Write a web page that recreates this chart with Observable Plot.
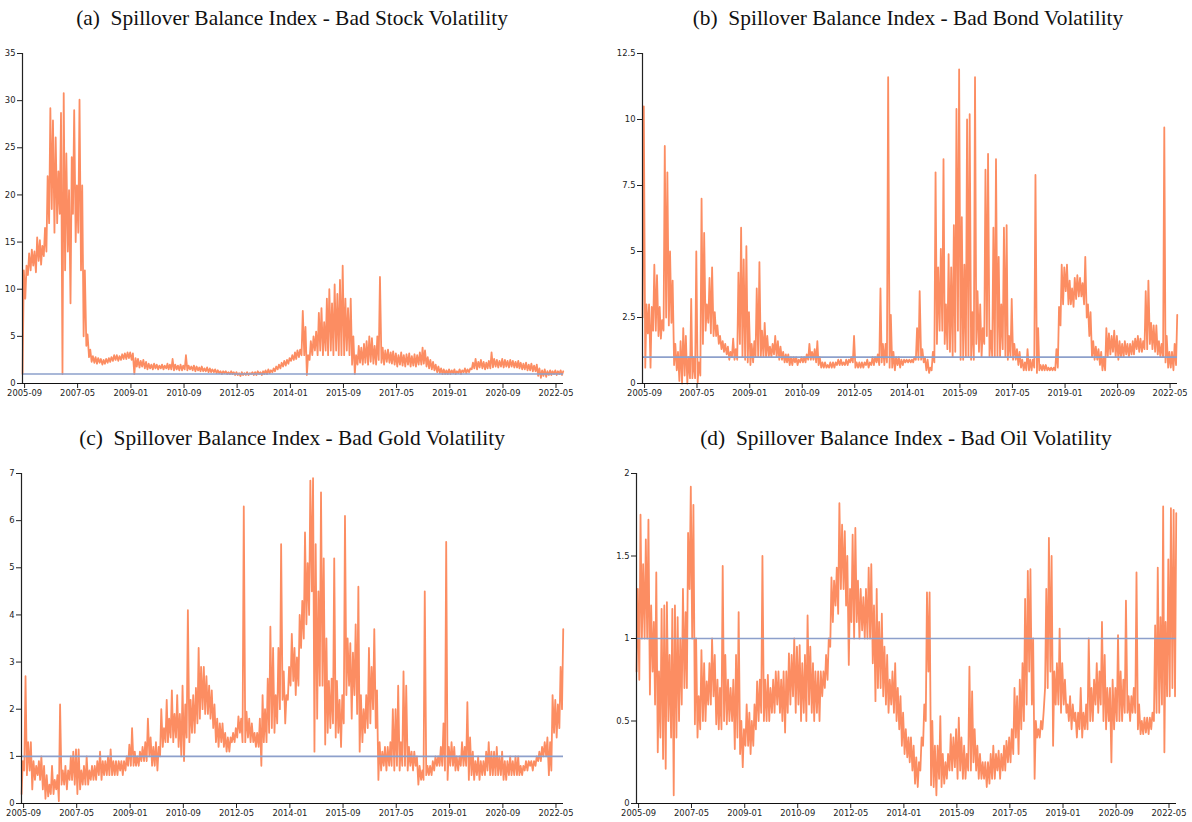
<!DOCTYPE html>
<html>
<head>
<meta charset="utf-8">
<script src="https://cdn.jsdelivr.net/npm/d3@7"></script>
<script src="https://cdn.jsdelivr.net/npm/@observablehq/plot@0.6"></script>
<style>
  html, body { margin: 0; padding: 0; background: #fff; }
  body { width: 1192px; height: 822px; position: relative; overflow: hidden; }
  .panel { position: absolute; }
  .title { position: absolute; font-family: "Liberation Serif", "Times New Roman", serif; font-size: 21.4px; color: #111; white-space: pre; transform: translateX(-50%); line-height: 24px; }
</style>
</head>
<body>
<script>
// Monthly readings (low / high within each month), first month 2005-08
const firstMonth = "2005-08";
const xTickLabels = ["2005-09","2007-05","2009-01","2010-09","2012-05","2014-01","2015-09","2017-05","2019-01","2020-09","2022-05"];
const titles = [
  "(a)  Spillover Balance Index - Bad Stock Volatility",
  "(b)  Spillover Balance Index - Bad Bond Volatility",
  "(c)  Spillover Balance Index - Bad Gold Volatility",
  "(d)  Spillover Balance Index - Bad Oil Volatility"
];
const stockTicks = [0,5,10,15,20,25,30,35];
const bondTicks = [0,2.5,5,7.5,10,12.5];
const goldTicks = [0,1,2,3,4,5,6,7];
const oilTicks = [0,0.5,1,1.5,2];
const balanceLine = [1];

const stockLow = [1.0,9.0,11.5,12.0,12.5,11.8,13.0,12.6,13.5,14.0,17.0,18.5,16.0,17.0,18.0,1.0,12.0,14.0,8.5,18.0,15.0,16.0,12.0,5.0,4.0,2.8,2.3,2.2,2.1,2.2,
2.0,2.1,2.2,2.3,2.4,2.5,2.4,2.5,2.6,2.6,2.7,2.5,1.0,1.8,1.7,1.8,1.6,1.5,1.6,1.5,1.6,1.5,1.6,1.5,1.6,1.5,1.5,1.4,1.5,1.4,
1.4,1.5,1.4,1.5,1.4,1.3,1.4,1.3,1.3,1.3,1.2,1.2,1.2,1.1,1.1,1.0,1.1,1.0,1.0,1.0,0.9,0.9,0.8,0.9,0.9,0.9,1.0,0.9,0.9,1.0,
0.9,1.0,1.0,1.1,1.2,1.3,1.5,1.6,1.8,1.9,2.1,2.4,2.5,2.6,2.8,3.0,3.0,0.9,2.5,3.0,3.5,3.0,3.5,3.0,3.5,3.0,3.5,3.0,3.5,3.0,
3.0,3.0,3.5,3.0,2.0,1.0,2.0,2.2,2.0,2.2,2.0,2.3,2.1,2.0,2.5,2.2,2.0,2.3,2.2,2.1,2.0,1.8,2.0,1.9,1.8,2.0,1.8,1.9,1.8,2.0,
2.0,2.1,1.8,1.6,1.5,1.4,1.2,1.1,1.0,1.0,1.0,1.0,1.1,1.0,1.1,1.0,1.2,1.1,1.2,1.5,1.6,1.5,1.7,1.6,1.5,1.6,1.6,1.7,1.8,1.7,
1.8,1.7,1.8,1.7,1.8,1.7,1.7,1.6,1.5,1.5,1.4,1.4,1.3,1.3,0.8,0.6,0.8,0.7,0.9,0.9,1.0,0.9,1.0,0.9];
const stockHigh = [12.0,12.5,13.8,14.2,14.0,15.5,15.2,14.6,16.5,22.0,29.2,27.9,26.1,22.5,28.7,30.8,24.4,20.5,24.0,29.0,21.0,30.1,21.0,12.0,5.2,3.6,2.9,2.8,2.7,2.6,
2.5,2.6,2.7,2.8,3.0,3.0,2.9,3.1,3.2,3.3,3.3,3.2,2.7,2.6,2.4,2.5,2.3,2.1,2.0,2.1,2.0,1.9,2.0,1.9,2.1,2.0,2.6,2.0,1.9,2.0,
1.9,3.0,1.9,1.8,1.9,1.8,1.7,1.8,1.6,1.7,1.6,1.5,1.5,1.4,1.3,1.3,1.3,1.2,1.3,1.2,1.2,1.1,1.2,1.1,1.2,1.1,1.2,1.2,1.3,1.2,
1.3,1.4,1.5,1.4,1.6,1.8,2.0,2.2,2.4,2.5,2.7,3.0,3.3,3.5,3.6,7.7,6.0,3.0,4.5,5.0,5.5,7.5,8.0,6.5,9.0,10.0,8.5,10.5,9.5,11.0,
12.5,9.0,8.0,9.0,5.0,3.0,4.0,3.8,4.2,4.5,5.0,4.8,4.0,5.0,11.3,3.8,3.5,3.6,3.3,3.4,3.2,3.0,3.3,3.0,3.1,3.2,2.9,3.1,3.0,3.3,
3.8,3.5,2.8,2.5,2.3,2.0,1.8,1.6,1.5,1.4,1.5,1.4,1.5,1.3,1.5,1.4,1.6,1.5,1.6,2.2,2.6,2.3,2.5,2.3,2.2,2.4,3.3,2.6,2.5,2.4,
2.6,2.5,2.4,2.5,2.4,2.3,2.4,2.2,2.1,2.2,2.0,2.1,1.9,2.0,1.6,1.4,1.5,1.3,1.4,1.3,1.4,1.3,1.4,1.3];

const bondLow = [2.5,0.6,1.9,0.6,2.0,2.0,1.8,1.7,2.0,2.5,2.2,2.3,0.7,0.5,0.1,0.0,0.3,0.0,0.2,0.2,0.2,0.05,0.3,1.5,2.0,2.3,1.9,1.8,1.8,1.5,
1.3,1.2,1.1,0.9,1.0,0.9,0.9,1.5,1.0,0.9,0.8,0.7,0.8,1.0,1.0,1.0,1.0,1.0,1.0,1.0,1.1,1.0,0.9,0.9,0.8,0.8,0.7,0.7,0.8,0.7,
0.8,0.8,0.8,0.9,0.9,0.9,0.8,0.7,0.6,0.6,0.6,0.6,0.6,0.6,0.7,0.7,0.7,0.7,0.7,0.8,0.8,0.6,0.6,0.6,0.6,0.7,0.6,0.7,0.7,0.8,
0.7,0.8,0.7,0.8,0.6,0.6,0.5,0.7,0.6,0.7,0.8,0.8,0.8,0.8,0.9,0.9,0.9,0.8,0.5,0.4,0.5,0.8,1.5,2.0,2.0,1.5,1.3,1.2,1.0,1.2,
2.0,0.9,0.9,1.0,1.0,0.9,0.9,1.5,1.2,1.0,1.5,1.8,1.0,1.0,1.0,1.0,1.0,1.3,1.0,0.9,1.0,0.9,0.9,0.7,0.6,0.5,0.5,0.5,0.5,0.6,
0.4,0.5,0.5,0.5,0.5,0.5,0.5,0.5,0.6,2.2,3.0,3.5,3.0,3.0,2.9,3.2,3.3,3.3,3.0,2.5,1.8,1.0,0.9,0.9,0.7,0.5,0.5,1.0,1.1,1.2,
1.0,0.9,1.0,1.0,1.1,1.0,1.1,1.1,1.3,1.2,1.2,1.3,1.3,1.5,1.3,1.2,1.1,1.0,1.0,0.8,0.6,0.6,0.5,0.7];
const bondHigh = [10.5,3.0,3.0,2.9,4.5,4.1,2.9,2.4,9.0,8.0,5.0,3.9,1.5,1.2,1.6,2.1,1.8,1.0,3.2,1.0,5.0,0.8,7.0,5.7,3.0,4.0,4.4,2.7,2.2,1.8,
1.6,1.5,1.4,1.2,1.7,1.3,4.2,5.9,4.7,5.2,2.7,1.5,1.6,3.6,4.6,2.0,2.3,1.8,1.4,1.5,1.8,1.6,1.4,1.2,1.1,1.1,1.0,1.0,1.0,0.9,
1.0,1.0,1.1,1.5,1.2,1.3,1.6,1.0,0.8,0.8,0.7,0.8,0.8,0.8,0.9,0.9,0.8,0.9,0.9,1.0,1.8,0.8,0.8,0.8,0.8,0.9,0.8,1.0,1.0,1.1,
3.6,1.5,1.5,11.6,2.6,1.2,1.0,1.0,0.9,0.9,0.9,0.9,0.9,1.0,2.1,3.5,1.3,1.0,0.9,0.6,1.2,8.0,4.4,5.1,8.5,3.0,4.9,4.4,6.0,10.4,
11.9,6.3,4.5,10.0,10.2,2.7,11.6,3.5,3.0,2.1,8.1,8.7,2.0,5.9,8.5,4.8,3.0,5.9,6.0,1.8,3.2,1.5,1.3,1.2,0.9,0.8,1.3,0.9,0.9,7.9,
2.1,0.7,0.7,0.7,0.6,0.6,0.6,1.3,2.9,4.5,4.4,4.5,3.9,3.6,4.0,4.1,4.0,3.8,4.8,3.0,2.7,1.6,1.4,1.3,1.2,1.0,2.1,1.9,1.8,2.0,
1.8,1.6,1.5,1.6,1.5,1.5,1.6,1.7,1.8,1.7,1.6,3.5,3.9,2.3,2.2,2.2,1.6,1.5,9.7,1.8,1.2,1.2,1.5,2.6];

const goldLow = [0.2,0.7,0.6,0.7,0.3,0.5,0.6,0.5,0.3,0.1,0.15,0.2,0.2,0.3,0.05,0.4,0.4,0.3,0.5,0.5,0.4,0.2,0.3,0.4,0.4,0.4,0.5,0.5,0.5,0.6,
0.5,0.6,0.6,0.6,0.6,0.6,0.6,0.7,0.6,0.7,0.8,0.8,0.8,0.8,0.8,0.9,0.9,0.9,1.0,0.8,0.8,0.7,1.0,1.2,1.3,1.3,1.4,1.3,1.4,1.2,
1.0,0.9,1.4,1.3,1.5,1.5,1.7,1.8,2.0,1.9,1.9,1.8,1.6,1.3,1.2,1.3,1.2,1.1,1.1,1.3,1.3,1.4,1.5,1.3,1.3,1.4,1.3,1.3,1.2,1.2,
0.8,1.3,1.3,1.5,1.6,1.5,1.7,2.0,2.2,1.7,2.2,2.5,2.6,2.3,2.5,3.3,3.5,3.8,4.0,4.5,1.1,1.8,2.5,2.5,1.25,1.5,1.6,1.7,1.4,1.5,
1.2,1.7,2.3,2.5,1.8,2.3,1.9,1.1,1.3,1.5,1.6,1.7,2.0,1.6,0.5,0.7,0.8,0.7,0.8,0.8,0.7,0.8,0.7,0.8,0.8,0.7,0.8,0.7,0.8,0.4,
0.5,0.5,0.6,0.6,0.6,0.7,0.8,0.8,0.8,0.7,0.5,0.8,0.8,0.7,0.7,0.8,0.8,0.8,0.5,0.6,0.5,0.6,0.5,0.6,0.6,0.7,0.6,0.6,0.6,0.6,
0.6,0.5,0.5,0.6,0.6,0.6,0.6,0.6,0.6,0.7,0.7,0.8,0.7,0.8,0.9,0.9,1.0,1.0,0.6,0.7,1.5,1.4,1.6,2.0];
const goldHigh = [0.9,2.7,1.3,1.3,0.9,0.8,0.9,1.0,0.8,0.6,0.4,0.8,0.5,0.6,2.1,0.7,0.8,0.7,1.0,1.1,1.15,1.15,0.7,0.8,1.0,0.7,0.8,0.8,0.9,1.1,
0.9,0.9,1.0,1.15,0.9,0.9,0.9,0.9,0.9,1.0,1.25,1.6,1.1,1.0,1.1,1.2,1.3,1.8,1.4,1.2,1.3,1.2,2.0,1.6,2.2,1.8,2.4,1.9,2.3,1.9,
2.5,2.1,4.1,2.2,2.3,2.45,3.3,2.9,2.9,2.7,2.5,2.4,2.1,1.8,1.7,1.7,1.5,1.4,1.4,1.5,1.6,1.85,1.8,6.3,1.95,1.8,1.7,1.5,1.5,1.8,
2.3,2.0,2.65,3.75,3.3,2.3,3.3,5.5,2.8,2.3,2.9,3.6,3.3,3.1,4.0,4.3,5.75,5.1,6.85,6.9,5.5,4.5,6.6,5.2,3.5,2.6,2.65,5.2,2.6,2.2,
2.3,6.1,3.5,3.4,3.2,3.8,4.6,2.3,2.0,2.3,3.3,2.9,3.7,2.4,1.3,1.1,1.2,1.2,1.3,2.0,2.0,2.5,1.3,2.8,2.5,1.2,1.1,1.1,1.0,0.8,
0.7,4.5,0.8,0.8,0.9,1.0,1.0,1.2,1.7,5.55,1.2,1.3,1.2,1.0,1.0,1.3,1.2,2.15,1.4,1.1,0.9,1.0,0.9,0.9,1.1,1.3,1.1,1.1,1.2,1.0,
1.1,0.9,0.9,1.0,0.9,1.0,1.0,0.8,0.8,0.9,0.9,0.9,0.9,1.0,1.1,1.2,1.3,1.4,1.3,2.3,2.2,2.1,2.9,3.7];

const oilLow = [0.8,0.75,1.0,1.0,1.0,0.66,0.8,0.6,0.31,0.4,0.27,0.21,0.5,0.4,0.05,0.4,0.5,0.6,0.7,0.7,1.3,1.0,0.48,0.4,0.45,0.5,0.5,0.6,0.6,0.65,
0.48,0.45,0.45,0.5,0.48,0.5,0.5,0.33,0.4,0.3,0.22,0.35,0.35,0.3,0.35,0.45,0.5,0.55,0.5,0.5,0.5,0.55,0.55,0.6,0.55,0.5,0.43,0.55,0.6,0.65,
0.55,0.6,0.5,0.55,0.5,0.6,0.55,0.5,0.55,0.5,0.65,0.7,0.75,0.95,1.1,1.2,1.15,1.3,1.3,1.2,0.84,1.1,1.0,1.1,1.0,1.05,1.0,1.0,1.0,0.85,
0.62,0.7,0.7,0.65,0.6,0.55,0.6,0.55,0.5,0.45,0.35,0.3,0.28,0.25,0.2,0.12,0.1,0.2,0.35,0.5,0.8,0.11,0.1,0.05,0.15,0.1,0.12,0.15,0.2,0.2,
0.22,0.15,0.2,0.15,0.15,0.2,0.2,0.25,0.2,0.15,0.15,0.15,0.1,0.12,0.15,0.15,0.2,0.15,0.2,0.2,0.25,0.25,0.3,0.4,0.3,0.45,0.5,0.6,0.8,0.6,
0.15,0.4,0.4,0.45,0.7,0.7,0.8,0.35,0.6,0.6,0.55,0.6,0.55,0.5,0.45,0.5,0.4,0.45,0.4,0.45,0.45,0.5,0.5,0.6,0.55,0.6,0.5,0.45,0.5,0.25,
0.45,0.5,0.5,0.5,0.55,0.55,0.5,0.55,0.55,0.45,0.42,0.42,0.43,0.42,0.45,0.5,0.55,0.55,0.6,0.31,0.65,0.65,0.7,0.65];
const oilHigh = [1.3,1.75,1.45,1.6,1.72,1.2,1.1,1.4,0.8,1.18,1.2,1.22,0.9,1.18,1.2,1.13,1.0,1.3,1.16,1.64,1.92,1.81,1.0,0.65,0.93,0.85,0.74,0.85,1.0,0.9,
0.75,0.7,1.44,0.9,0.75,0.7,0.75,0.9,1.16,0.5,0.45,0.6,0.55,0.5,0.6,0.74,0.75,1.5,0.75,0.78,0.7,0.75,0.8,0.8,0.75,0.8,0.8,0.91,0.9,1.0,
0.95,0.96,0.85,0.9,1.14,0.95,0.85,0.8,0.8,0.8,0.8,0.9,1.0,1.37,1.35,1.43,1.82,1.69,1.65,1.5,1.3,1.63,1.67,1.35,1.3,1.25,1.3,1.43,1.45,1.2,
1.3,1.1,1.15,0.95,0.9,0.75,0.8,0.85,0.7,0.65,0.55,0.45,0.4,0.4,0.35,0.28,0.25,0.4,0.6,1.28,1.28,0.5,0.35,0.35,0.53,0.3,0.25,0.3,0.42,0.4,
0.45,0.52,0.4,0.35,0.3,0.83,0.68,0.45,0.35,0.3,0.25,0.25,0.25,0.3,0.35,0.3,0.32,0.3,0.35,0.38,0.4,0.45,0.7,0.65,0.75,0.85,1.24,1.41,1.42,1.0,
0.5,0.45,0.5,0.55,1.3,1.61,1.5,0.8,0.85,1.06,0.85,0.75,0.6,0.65,0.6,0.55,0.55,0.7,0.55,0.6,1.0,0.7,0.75,0.85,0.8,1.1,0.9,0.7,0.7,0.75,
0.7,1.02,0.8,0.75,1.23,0.65,0.65,0.7,1.4,0.6,0.5,0.52,0.52,0.52,0.55,1.08,1.43,1.13,1.8,1.1,1.48,1.79,1.78,1.76];

const orange = "#fc8d62";
const blue = "#8da0cb";
const xDomain = [new Date(Date.UTC(2005, 7, 8)), new Date(Date.UTC(2022, 6, 26))];
const xTickDates = xTickLabels.map(s => new Date(s + "-01T00:00:00Z"));

function rows(lo, hi) {
  const t0 = new Date(firstMonth + "-01T00:00:00Z");
  const out = [];
  for (let i = 0; i < lo.length; i++) {
    const m = d3.utcMonth.offset(t0, i);
    out.push({date: d3.utcDay.offset(m, 8), v: lo[i]});
    out.push({date: d3.utcDay.offset(m, 22), v: hi[i]});
  }
  return out;
}

const panels = [
  {title: titles[0], left: 0,   top: 40,  ml: 22, mr: 33, cx: 292, ty: 6,   yd: [0, 35],   yt: stockTicks, data: rows(stockLow, stockHigh)},
  {title: titles[1], left: 596, top: 40,  ml: 46, mr: 15, cx: 908, ty: 6,   yd: [0, 12.5], yt: bondTicks,  data: rows(bondLow, bondHigh)},
  {title: titles[2], left: 0,   top: 460, ml: 21, mr: 33, cx: 292, ty: 426, yd: [0, 7],    yt: goldTicks,  data: rows(goldLow, goldHigh)},
  {title: titles[3], left: 596, top: 460, ml: 40, mr: 16, cx: 906, ty: 426, yd: [0, 2],    yt: oilTicks,   data: rows(oilLow, oilHigh)}
];

for (const p of panels) {
  const t = document.createElement("div");
  t.className = "title";
  t.style.left = p.cx + "px";
  t.style.top = p.ty + "px";
  t.textContent = p.title;
  document.body.appendChild(t);

  const chart = Plot.plot({
    width: 596,
    height: 360,
    marginLeft: p.ml,
    marginRight: p.mr,
    marginTop: 13,
    marginBottom: 17,
    style: {fontFamily: "'DejaVu Sans', Verdana, sans-serif", fontSize: "8.4px", color: "#222", background: "transparent", overflow: "visible"},
    x: {type: "utc", domain: xDomain, ticks: xTickDates, tickFormat: "%Y-%m", tickSize: 5, tickPadding: 2, label: null},
    y: {domain: p.yd, ticks: p.yt, tickFormat: d => String(d), tickSize: 5, tickPadding: 2, label: null},
    marks: [
      Plot.lineY(p.data, {x: "date", y: "v", stroke: orange, strokeWidth: 1.8}),
      Plot.ruleY(balanceLine, {stroke: blue, strokeWidth: 1.6}),
      Plot.ruleX([xDomain[0]], {stroke: "#222", strokeWidth: 1.2}),
      Plot.ruleY([0], {stroke: "#111", strokeWidth: 1.2})
    ]
  });
  const wrap = document.createElement("div");
  wrap.className = "panel";
  wrap.style.left = p.left + "px";
  wrap.style.top = p.top + "px";
  wrap.appendChild(chart);
  document.body.appendChild(wrap);
}
</script>
</body>
</html>
